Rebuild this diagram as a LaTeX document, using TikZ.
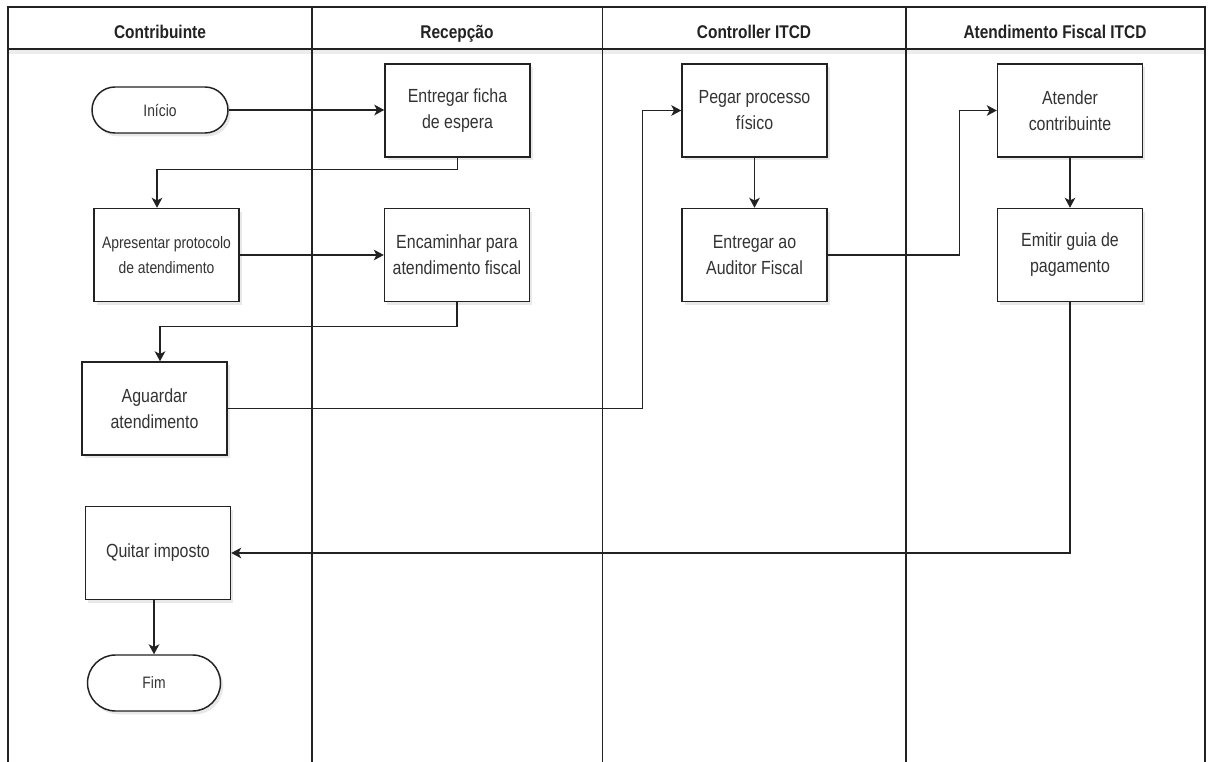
\documentclass[tikz,border=0pt]{standalone}
\usepackage{fontspec}
\setmainfont{Liberation Sans}[FakeStretch=0.84]
\usetikzlibrary{arrows.meta,calc,shapes.misc}

\definecolor{ink}{HTML}{222222}
\definecolor{txt}{HTML}{333333}

\tikzset{
  lane/.style={draw=ink, line width=1.1pt},
  lanehead/.style={font=\bfseries\fontsize{13.8}{17}\selectfont, text=ink, anchor=base},
  softshadow/.style={preaction={fill=black, opacity=0.09,
    transform canvas={xshift=2pt, yshift=-2.5pt}}},
  task/.style={draw=ink, line width=1.1pt, fill=white, softshadow,
    minimum width=108.75pt, minimum height=69.75pt, inner sep=2pt,
    align=center, text=txt, font=\fontsize{14.25}{19.5}\selectfont},
  smalltask/.style={task, font=\fontsize{12.4}{18.75}\selectfont},
  terminal/.style={draw=ink, line width=1.1pt, fill=white, softshadow,
    rounded rectangle, inner sep=0pt, text=txt,
    font=\fontsize{12.4}{15}\selectfont},
  flow/.style={draw=ink, line width=1.1pt, -{Stealth[length=7.5pt, width=8pt, inset=2pt]}},
}

\begin{document}
\begin{tikzpicture}[x=0.75pt, y=-0.75pt]
  \useasboundingbox (0,0) rectangle (1208,762);
  \clip (0,0) rectangle (1208,762);
  \fill[white] (0,0) rectangle (1208,762);

  % pool frame, header row and lanes
  \fill[black, opacity=0.07] (8,50) rectangle (1205,54);
  \draw[lane] (8,7) rectangle (1205,790);
  \draw[lane] (8,49) -- (1205,49);
  \draw[lane] (312,7) -- (312,790);
  \draw[lane] (602.5,7) -- (602.5,790);
  \draw[lane] (906,7) -- (906,790);

  \node[lanehead] (h1) at (160,39) {Contribuinte};
  \node[lanehead] (h2) at (457,39) {Recepção};
  \node[lanehead] (h3) at (754,39) {Controller ITCD};
  \node[lanehead] (h4) at (1055,39) {Atendimento Fiscal ITCD};

  % steps
  \node[terminal, minimum width=102pt, minimum height=34.5pt] (ini) at (160,110) {Início};
  \node[task] (ficha) at (457.5,110.5) {Entregar ficha\\de espera};
  \node[smalltask] (apres) at (166.5,255) {Apresentar protocolo\\de atendimento};
  \node[task] (encam) at (457,255) {Encaminhar para\\atendimento fiscal};
  \node[task] (aguard) at (154.5,408.5) {Aguardar\\atendimento};
  \node[task] (pegar) at (754.5,110.5) {Pegar processo\\físico};
  \node[task] (entaud) at (754.5,255) {Entregar ao\\Auditor Fiscal};
  \node[task] (atend) at (1070,110.5) {Atender\\contribuinte};
  \node[task] (emitir) at (1070,255) {Emitir guia de\\pagamento};
  \node[task] (quitar) at (158,553) {Quitar imposto};
  \node[terminal, minimum width=99.75pt, minimum height=42pt] (fim) at (154,683) {Fim};

  % sequence flows
  \draw[flow] (ini.east) -- (ini.east -| ficha.west);
  \draw[flow] (ficha.south) -- ++(0,12) -| ($(apres.north)+(-9.5,0)$);
  \draw[flow] (apres.east) -- (encam.west);
  \draw[flow] (encam.south) -- ++(0,24.5) -| ($(aguard.north)+(5.5,0)$);
  \draw[flow] (aguard.east) -- ++(415,0) |- (pegar.west);
  \draw[flow] (pegar.south) -- (entaud.north);
  \draw[flow] (entaud.east) -- ++(132,0) |- (atend.west);
  \draw[flow] (atend.south) -- (emitir.north);
  \draw[flow] (emitir.south) |- (quitar.east);
  \draw[flow] (quitar.south -| fim.north) -- (fim.north);
\end{tikzpicture}
\end{document}
